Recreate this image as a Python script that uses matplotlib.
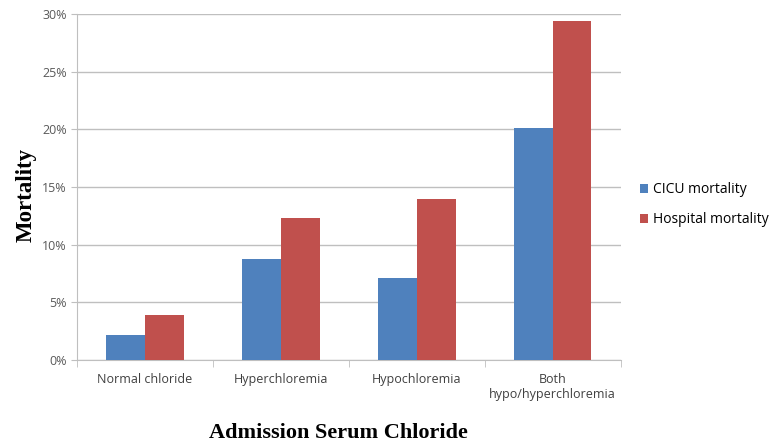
import matplotlib.pyplot as plt
import numpy as np
from matplotlib.ticker import PercentFormatter

# data (%)
categories = ["Normal chloride", "Hyperchloremia", "Hypochloremia", "Both\nhypo/hyperchloremia"]
cicu = [2.2, 8.8, 7.1, 20.1]
hospital = [3.95, 12.3, 14.0, 29.4]
series_names = ["CICU mortality", "Hospital mortality"]
colors = ["#4F81BD", "#C0504D"]

fig = plt.figure(figsize=(7.7, 4.44), dpi=100)
ax = fig.add_axes([0.1, 0.189, 0.706, 0.779])

x = np.arange(len(categories))
w = 1 / 3.5
ax.bar(x - w / 2, cicu, w, color=colors[0], label=series_names[0], zorder=3)
ax.bar(x + w / 2, hospital, w, color=colors[1], label=series_names[1], zorder=3)

ax.set_xlim(-0.5, len(categories) - 0.5)
ax.set_ylim(0, 30)
ax.set_yticks(np.arange(0, 31, 5))
ax.yaxis.set_major_formatter(PercentFormatter(decimals=0))
ax.grid(axis="y", color="#BFBFBF", linewidth=1, zorder=0)

ax.set_xticks(x)
ax.set_xticklabels(categories, fontsize=9, family="Open Sans", color="#404040")
ax.set_xticks(np.arange(-0.5, len(categories)), minor=True)
ax.tick_params(axis="x", which="major", length=0, pad=9)
ax.tick_params(axis="x", which="minor", length=5, color="#BFBFBF")
ax.tick_params(axis="y", length=4, color="#BFBFBF", labelsize=9, labelcolor="#595959")
for lab in ax.get_yticklabels():
    lab.set_family("Open Sans")

for s in ["top", "right"]:
    ax.spines[s].set_visible(False)
for s in ["left", "bottom"]:
    ax.spines[s].set_color("#BFBFBF")

fig.text(0.034, 0.56, "Mortality", fontsize=16.5, fontweight="bold", family="Liberation Serif",
         rotation=90, ha="center", va="center")
fig.text(0.44, 0.025, "Admission Serum Chloride", fontsize=16, fontweight="bold",
         family="Liberation Serif", ha="center", va="center")

fig.legend(loc="center left", bbox_to_anchor=(0.831, 0.539), frameon=False,
           prop={"family": "Open Sans", "size": 10}, handlelength=0.6, handleheight=0.6,
           handletextpad=0.35, labelspacing=1.1, borderpad=0, borderaxespad=0)

fig.savefig("out.png", dpi=100)
